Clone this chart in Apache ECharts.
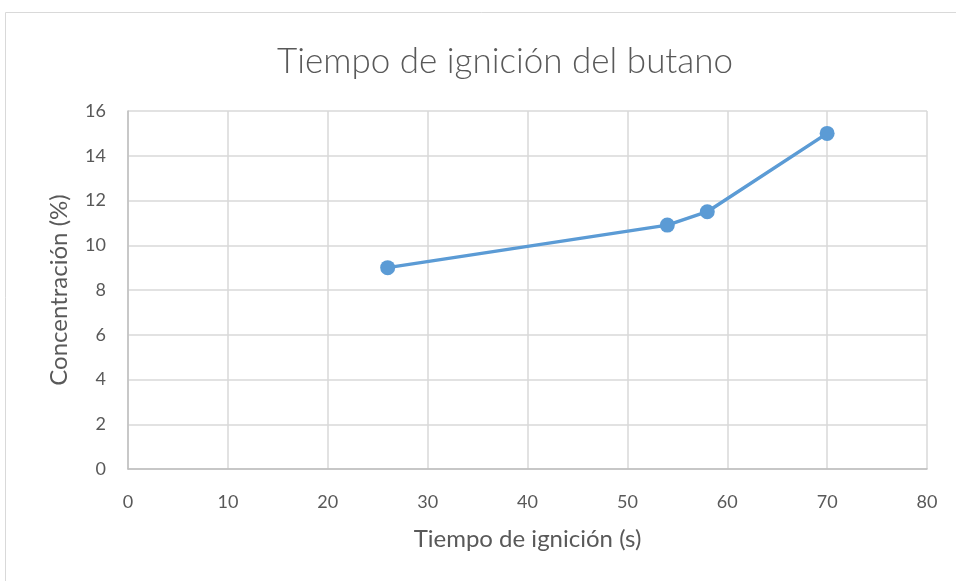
<!DOCTYPE html>
<html>
<head>
<meta charset="utf-8">
<script src="https://cdn.jsdelivr.net/npm/echarts@6/dist/echarts.min.js"></script>
<style>
  html, body { margin: 0; padding: 0; background: #fff; }
  #chart { width: 956px; height: 581px; }
</style>
</head>
<body>
<div id="chart"></div>
<script>
// datos
var tiempo = [26, 54, 58, 70];
var concentracion = [9, 10.9, 11.5, 15];

var puntos = tiempo.map(function (t, i) { return [t, concentracion[i]]; });

var myChart = echarts.init(document.getElementById('chart'));

var txt = '#595959';
var font = 'Lato, "Open Sans", sans-serif';

var option = {
    backgroundColor: '#fff',
    animation: false,
    graphic: [{
        type: 'rect',
        shape: { x: 5.5, y: 12.5, width: 960, height: 580 },
        style: { fill: 'none', stroke: '#d9d9d9', lineWidth: 1 }
    }],
    title: {
        text: 'Tiempo de ignición del butano',
        left: 272,
        top: 39,
        textStyle: { color: txt, fontSize: 35, fontWeight: 300, fontFamily: font }
    },
    grid: { left: 128, right: 29, top: 111, bottom: 112 },
    xAxis: {
        type: 'value',
        min: 0, max: 80, interval: 10,
        name: 'Tiempo de ignición (s)',
        nameLocation: 'middle',
        nameGap: 58,
        nameTextStyle: { color: txt, fontSize: 24, fontFamily: font },
        axisLine: { lineStyle: { color: '#bfbfbf', width: 1.5 } },
        axisTick: { show: false },
        axisLabel: { color: txt, fontSize: 18, fontFamily: font, margin: 24 },
        splitLine: { show: true, lineStyle: { color: '#d9d9d9', width: 1.5 } }
    },
    yAxis: {
        type: 'value',
        min: 0, max: 16, interval: 2,
        name: 'Concentración (%)',
        nameLocation: 'middle',
        nameGap: 57,
        nameTextStyle: { color: txt, fontSize: 24, fontFamily: font },
        axisLine: { show: true, lineStyle: { color: '#bfbfbf', width: 1.5 } },
        axisTick: { show: false },
        axisLabel: { color: txt, fontSize: 18, fontFamily: font, margin: 22 },
        splitLine: { show: true, lineStyle: { color: '#d9d9d9', width: 1.5 } }
    },
    series: [{
        type: 'line',
        data: puntos,
        symbol: 'circle',
        symbolSize: 15,
        lineStyle: { color: '#5b9bd5', width: 3.5 },
        itemStyle: { color: '#5b9bd5' }
    }]
};

myChart.setOption(option);
</script>
</body>
</html>
